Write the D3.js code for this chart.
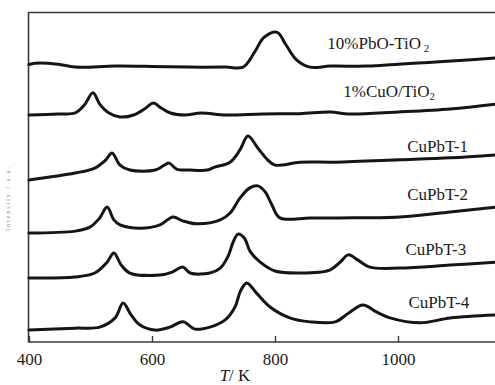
<!DOCTYPE html>
<html lang="en">
<head>
    <meta charset="UTF-8">
    <title>TPR profiles</title>
    <script type="text/javascript" src="https://d3js.org/d3.v7.min.js"></script>
    <style>
        body { margin: 0; background: #fff; }
        text { font-family: "Liberation Serif", "Times New Roman", serif; fill: #1a1a1a; }
    </style>
</head>
<body>
<svg class="tpr"></svg>

<script type="text/javascript">

    const width = 495;
    const height = 385;

    // temperature (K), signal (a.u., with stacking offset included)
    let pbo = [[400, 84.1], [410, 84.5], [447, 84.2], [475, 83.3], [540, 83.6], [600, 83.5], [660, 83.3],
        [720, 83.3], [748, 83.3], [767, 87.9], [782, 92.3], [803, 93.9], [818, 90], [835, 85.5], [857, 83.3],
        [890, 83.6], [950, 83.6], [1000, 84.2], [1050, 84.7], [1100, 85.3], [1160, 86.1]];
    let cuo = [[400, 68.8], [447, 69.1], [475, 69.4], [490, 71.8], [504, 75.5], [515, 72.1], [530, 69.4],
        [548, 68.2], [570, 68.8], [590, 70.9], [602, 72.4], [615, 70.9], [630, 69.4], [654, 68.8], [680, 69.4],
        [720, 68.8], [780, 69.1], [840, 69.2], [890, 69.7], [920, 69.1], [1000, 69.7], [1085, 70.6], [1160, 72.1]];
    let cupbt1 = [[400, 49.1], [475, 51.2], [507, 52.7], [525, 55.2], [535, 57.3], [548, 53.6], [564, 52.1],
        [605, 52.1], [620, 53.6], [628, 54.2], [640, 52.4], [662, 52.1], [690, 52.1], [702, 53], [727, 54.5],
        [743, 58.2], [756, 62.4], [772, 58.8], [788, 55.2], [800, 53.6], [841, 54.5], [898, 54.5], [1003, 55.2],
        [1085, 55.8], [1160, 56.7]];
    let cupbt2 = [[400, 33], [475, 33.6], [499, 34.8], [515, 37.6], [527, 40.9], [538, 37], [548, 35.5],
        [580, 34.5], [613, 35.5], [634, 37.9], [650, 36.7], [673, 35.8], [711, 37], [727, 39.1], [743, 43.6],
        [759, 46.7], [772, 47.3], [784, 45.5], [795, 41.5], [808, 37.6], [857, 37.6], [906, 37.6], [1003, 37.9],
        [1085, 39.4], [1160, 40.9]];
    let cupbt3 = [[400, 19.4], [475, 19.7], [507, 20.9], [527, 24.2], [538, 27], [550, 23.3], [564, 20.9],
        [613, 20.3], [633, 21.2], [650, 22.7], [662, 20.9], [694, 20.9], [711, 22.4], [724, 26.1], [732, 30.3],
        [740, 32.7], [750, 31.5], [760, 27.3], [776, 24.2], [800, 21.5], [841, 20.9], [889, 21.8], [906, 24.2],
        [919, 26.4], [935, 24.8], [954, 22.7], [1003, 22.4], [1085, 23.3], [1160, 24.2]];
    let cupbt4 = [[400, 3.6], [475, 4.2], [515, 4.5], [540, 7.3], [553, 11.8], [566, 8.2], [580, 5.2],
        [605, 3.6], [629, 4.5], [650, 6.1], [670, 3.9], [694, 4.5], [719, 6.7], [735, 10.6], [744, 15.5],
        [754, 17.9], [770, 14.8], [792, 10.6], [824, 7.3], [857, 6.1], [898, 6.1], [920, 8.8], [943, 11.2],
        [965, 9.1], [987, 7.3], [1036, 5.8], [1085, 7.3], [1160, 8.2]];

    let series = [pbo, cuo, cupbt1, cupbt2, cupbt3, cupbt4];
    let names = ["10%PbO-TiO", "1%CuO/TiO", "CuPbT-1", "CuPbT-2", "CuPbT-3", "CuPbT-4"];
    let subs = [" 2", "2", "", "", "", ""];
    // where each label sits, in data units
    let labelT = [885, 911, 1015, 1015, 1012, 1017];
    let labelY = [88.8, 74.2, 57.6, 43, 26.4, 10.3];
    let tickValues = [400, 600, 800, 1000];

    let svg = d3.select(".tpr")
        .attr("width", width)
        .attr("height", height);

    let scaleX = d3.scaleLinear()
        .domain([400, 1160])
        .range([29, 496.4]);

    let scaleY = d3.scaleLinear()
        .domain([0, 100])
        .range([342, 12]);

    // frame
    svg.append("path")
        .attr("d", "M500,12.5H28.5V342H500")
        .attr("fill", "none")
        .attr("stroke", "#3a3a3a")
        .attr("stroke-width", 1.6);

    let axis = svg.append("g")
        .attr("transform", "translate(0,342)")
        .call(d3.axisBottom(scaleX)
            .tickValues(tickValues)
            .tickSize(-6)
            .tickPadding(11)
            .tickFormat(d3.format("d")));
    axis.select(".domain").remove();
    axis.selectAll("line").attr("stroke", "#3a3a3a").attr("stroke-width", 1.4);
    axis.selectAll("text")
        .style("font-family", "'Liberation Serif', serif")
        .style("font-size", "17px")
        .attr("fill", "#1a1a1a");

    let line = d3.line()
        .x(d => scaleX(d[0]))
        .y(d => scaleY(d[1]))
        .curve(d3.curveCatmullRom.alpha(0.5));

    svg.append("g").selectAll("path").data(series).enter().append("path")
        .attr("d", line)
        .attr("fill", "none")
        .attr("stroke", "#151515")
        .attr("stroke-width", 3)
        .attr("stroke-linejoin", "round")
        .attr("stroke-linecap", "round");

    // series labels
    let labels = svg.append("g").selectAll("text").data(names).enter().append("text")
        .attr("x", (d, i) => scaleX(labelT[i]))
        .attr("y", (d, i) => scaleY(labelY[i]))
        .style("font-size", "17px")
        .text(d => d);
    labels.append("tspan")
        .attr("dy", 3)
        .style("font-size", "11px")
        .text((d, i) => subs[i]);

    // x axis title
    let title = svg.append("text")
        .attr("x", 235)
        .attr("y", 381)
        .attr("text-anchor", "middle")
        .style("font-size", "17px");
    title.append("tspan").style("font-style", "italic").text("T");
    title.append("tspan").text("/ K");

    // y axis title (faint)
    svg.append("text")
        .attr("transform", "translate(10,199) rotate(-90)")
        .attr("text-anchor", "middle")
        .attr("textLength", 64)
        .style("font-size", "6px")
        .style("fill", "#8a8a8a")
        .text("Intensity / a.u.");

</script>

</body>
</html>
